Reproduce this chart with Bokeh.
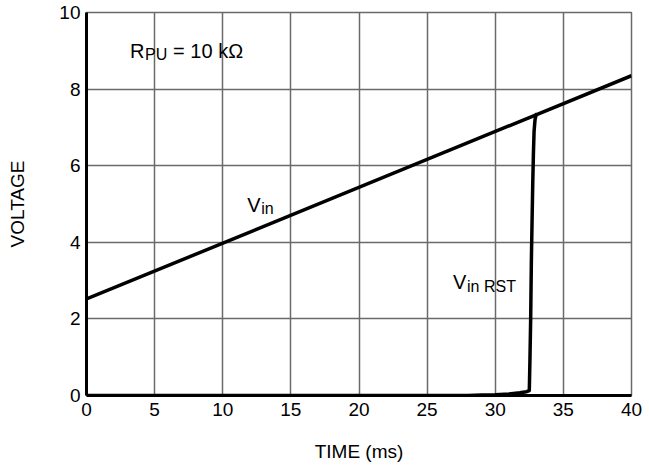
from bokeh.plotting import figure
from bokeh.models import Range1d, FixedTicker
from bokeh.core.properties import value
from bokeh.embed import file_html
from bokeh.resources import INLINE

# Data
time_vin = [0, 40]
vin = [2.52, 8.35]

time_rst = [0, 10, 20, 26, 28, 29, 30, 31, 31.8, 32.3, 32.5, 32.55, 32.6, 32.65, 32.7, 32.75, 32.8, 32.85, 32.92, 33.0, 33.08]
vin_rst = [0.0, 0.0, 0.0, 0.0, 0.0, 0.01, 0.02, 0.04, 0.07, 0.1, 0.13, 1.0, 2.0, 3.5, 4.5, 5.5, 6.3, 6.9, 7.2, 7.33, 7.36]

x_ticks = [0, 5, 10, 15, 20, 25, 30, 35, 40]
y_ticks = [0, 2, 4, 6, 8, 10]

FONT = "Liberation Sans"
TICK = "19px"
BIG = "20px"
SMALL = "16px"

p = figure(width=649, height=468, output_backend="svg", toolbar_location=None,
           x_range=Range1d(0, 40), y_range=Range1d(0, 10),
           min_border_left=86, min_border_right=18, min_border_top=12, min_border_bottom=73)

p.background_fill_color = "white"
p.border_fill_color = "white"
p.outline_line_color = "#6a6a6a"
p.outline_line_width = 1.5

for ax in (p.xaxis[0], p.yaxis[0]):
    ax.axis_line_color = "black"
    ax.axis_line_width = 3
    ax.major_tick_in = 0
    ax.major_tick_out = 0
    ax.minor_tick_in = 0
    ax.minor_tick_out = 0
    ax.major_label_text_font = FONT
    ax.major_label_text_font_size = TICK
    ax.major_label_text_color = "black"
    ax.axis_label_text_font = FONT
    ax.axis_label_text_font_size = TICK
    ax.axis_label_text_font_style = "normal"
    ax.axis_label_text_color = "black"

p.xaxis.ticker = FixedTicker(ticks=x_ticks)
p.yaxis.ticker = FixedTicker(ticks=y_ticks)
p.xaxis.axis_label = "TIME (ms)"
p.yaxis.axis_label = "VOLTAGE"
p.xaxis.major_label_standoff = 7
p.yaxis.major_label_standoff = 6
p.xaxis.axis_label_standoff = 22
p.yaxis.axis_label_standoff = 28

for g in (p.xgrid[0], p.ygrid[0]):
    g.grid_line_color = "#6a6a6a"
    g.grid_line_width = 1.5

p.line(time_vin, vin, line_color="black", line_width=3.5)
p.line(time_rst, vin_rst, line_color="black", line_width=3.5, line_join="round")

# Annotations (composed text with subscripts)
def label(x, y, parts):
    off = 0
    for txt, size, dy, w in parts:
        p.text(x=[x], y=[y], text=[txt], x_offset=off, y_offset=dy,
               text_font=value(FONT), text_font_size=size, text_color="black",
               text_baseline="alphabetic", text_align="left")
        off += w

label(3.2, 9.0, [("R", BIG, 0, 15), ("PU", SMALL, 4, 28), ("= 10 k\u03a9", BIG, 0, 0)])
label(11.8, 4.98, [("V", BIG, 0, 14), ("in", SMALL, 4, 0)])
label(26.9, 2.96, [("V", BIG, 0, 14), ("in RST", SMALL, 4, 0)])

open("out.html", "w").write(file_html(p, INLINE))
